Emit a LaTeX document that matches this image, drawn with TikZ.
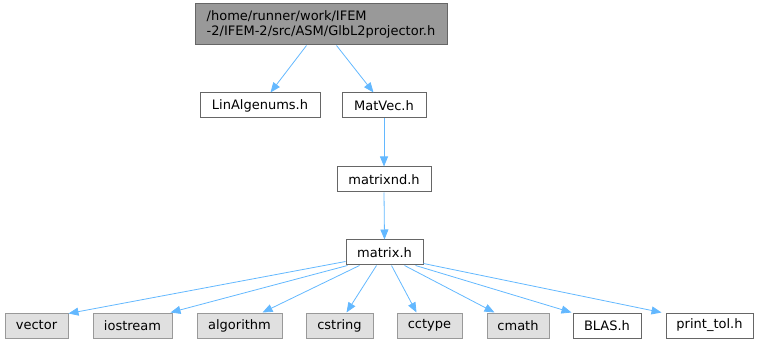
\documentclass[tikz,border=0pt]{standalone}
\usepackage{fontspec}
\setmainfont{DejaVu Sans}
\usetikzlibrary{arrows.meta,calc}
\definecolor{edgeblue}{HTML}{63B8FF}
\definecolor{topfill}{HTML}{999999}
\definecolor{topdraw}{HTML}{666666}
\definecolor{extfill}{HTML}{E0E0E0}
\definecolor{extdraw}{HTML}{999999}
\tikzset{
  box/.style={draw=topdraw, fill=white, line width=1pt, inner sep=0pt, minimum height=25pt,
    font=\fontsize{13}{15}\selectfont, anchor=center},
  extbox/.style={box, draw=extdraw, fill=extfill},
  topbox/.style={box, fill=topfill, minimum height=41pt, align=left},
  dep/.style={draw=edgeblue, line width=0.8pt, -{Triangle[length=10pt,width=8pt]}}
}
\begin{document}
\begin{tikzpicture}[x=1pt,y=-1pt]
\useasboundingbox (0,0) rectangle (759,344);
\node[topbox, minimum width=252pt] (top) at (321,24.5) {/home/runner/work/IFEM\\-2/IFEM-2/src/ASM/GlbL2projector.h};
\node[box, minimum width=120pt] (lin) at (260,105.5) {LinAlgenums.h};
\node[box, minimum width=84pt] (matvec) at (384,105.5) {MatVec.h};
\node[box, minimum width=94pt] (matrixnd) at (384,179.5) {matrixnd.h};
\node[box, minimum width=77pt] (matrix) at (384.5,252.5) {matrix.h};
\node[extbox, minimum width=63pt] (vector) at (36.5,325.5) {vector};
\node[extbox, minimum width=79pt] (iostream) at (132.5,325.5) {iostream};
\node[extbox, minimum width=85pt] (algorithm) at (239.5,325.5) {algorithm};
\node[extbox, minimum width=67pt] (cstring) at (339.5,325.5) {cstring};
\node[extbox, minimum width=65pt] (cctype) at (429.5,325.5) {cctype};
\node[extbox, minimum width=62pt] (cmath) at (518,325.5) {cmath};
\node[box, minimum width=68pt] (blas) at (607,325.5) {BLAS.h};
\node[box, minimum width=87pt] (printtol) at (709.5,325.5) {print\_tol.h};

\draw[dep] ($(top.south west)+(112,0)$) -- ($(lin.north west)+(71,0)$);
\draw[dep] ($(top.south west)+(142,0)$) -- ($(matvec.north west)+(32,0)$);
\draw[dep] (matvec.south) -- (matrixnd.north);
\draw[dep] (matrixnd.south) -- (matrix.north);

\draw[dep] ($(matrix.south west)+(0,-4)$) -- ($(vector.north east)+(0,1)$);
\draw[dep] ($(matrix.south west)+(2,0)$) -- ($(iostream.north east)+(-2,0)$);
\draw[dep] ($(matrix.south west)+(14,0)$) -- ($(algorithm.north west)+(66,0)$);
\draw[dep] ($(matrix.south west)+(31,0)$) -- ($(cstring.north west)+(41,0)$);
\draw[dep] ($(matrix.south west)+(46,0)$) -- ($(cctype.north west)+(20,0)$);
\draw[dep] ($(matrix.south west)+(59,0)$) -- ($(cmath.north west)+(8,0)$);
\draw[dep] ($(matrix.south west)+(70,0)$) -- ($(blas.north west)+(-1,0)$);
\draw[dep] ($(matrix.south east)+(0,-2)$) -- ($(printtol.north west)+(-4,0)$);
\end{tikzpicture}
\end{document}
